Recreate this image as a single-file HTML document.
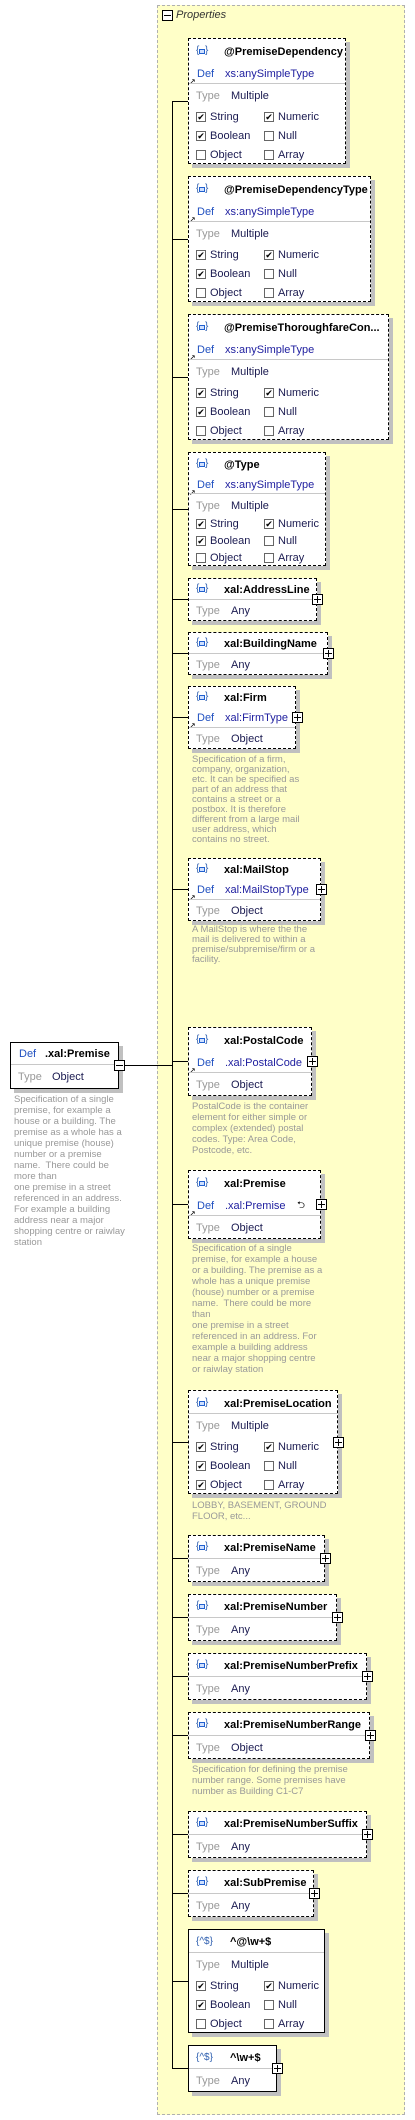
<!DOCTYPE html>
<html><head><meta charset="utf-8"><style>
*{box-sizing:border-box;margin:0;padding:0}
body{width:415px;height:2120px;background:#fff;position:relative;font-family:"Liberation Sans","DejaVu Sans",sans-serif;font-size:11px;overflow:hidden}
.ct{position:absolute;left:157px;top:5px;width:248px;height:2110px;background:#ffffc8;border:1px dashed #b0b0b0}
.pm{position:absolute;left:162px;top:10px;width:11px;height:11px;border:1px solid #000;background:#fff}
.pm:after{content:"";position:absolute;left:1px;top:4px;width:7px;height:1px;background:#000}
.pt{position:absolute;left:176px;top:9px;font-style:italic;color:#333}
.ln{position:absolute;background:#000}
.b{position:absolute;left:188px;background:#fff;border:1px dashed #000;box-shadow:4px 4px 0 #c0c0c0}
.s{border-style:solid}
.r{position:absolute;left:0;height:18px;line-height:18px;white-space:nowrap;width:100%}
.ic{position:absolute;left:7px;top:4px;width:12px;height:10px;color:#3060b0;font-size:10px;line-height:10px}
.ic:before{content:"{";position:absolute;left:0;top:-1px}
.ic:after{content:"}";position:absolute;left:9px;top:-1px}
.ic i{position:absolute;left:3px;top:2px;width:6px;height:5px;border:1px solid #2060d0;background:#cfe0ff}
.rx{position:absolute;left:7px;color:#3060b0;font-size:10px}
.nm{position:absolute;left:35px;font-weight:bold;color:#000}
.d{position:absolute;left:8px;color:#2050c0}
.dt{position:absolute;left:36px;color:#2020a0}
.ar{position:absolute;left:0px;top:8px;font-size:8px;color:#000}
.sep{position:absolute;left:0;width:100%;height:1px;background:#c8c8c8}
.k{position:absolute;left:7px;color:#999}
.v{position:absolute;left:42px;color:#1a1a50}
.c{position:absolute;top:4px;width:10px;height:10px;border:1px solid #666;background:#fff;font-size:9px;line-height:8px;text-align:center;color:#000}
.c1{left:7px}.c2{left:75px}
.l1{position:absolute;left:21px;color:#1a1a50}.l2{position:absolute;left:89px;color:#1a1a50}
.px{position:absolute;width:11px;height:11px;border:1px solid #000;background:#fff}
.px:before{content:"";position:absolute;left:1px;top:4px;width:7px;height:1px;background:#000}
.px:after{content:"";position:absolute;left:4px;top:1px;width:1px;height:7px;background:#000}
.ds{position:absolute;left:192px;font-size:9.5px;line-height:11px;color:#999;white-space:nowrap}
</style></head><body>
<div class="ct"></div>
<div class="pm"></div><div class="pt">Properties</div>

<div class="ln" style="left:172px;top:101px;width:1px;height:1967px"></div>
<div class="ln" style="left:124px;top:1065px;width:48px;height:1px"></div>
<div class="ln" style="left:172px;top:101px;width:16px;height:1px"></div>
<div class="ln" style="left:172px;top:239px;width:16px;height:1px"></div>
<div class="ln" style="left:172px;top:377px;width:16px;height:1px"></div>
<div class="ln" style="left:172px;top:509px;width:16px;height:1px"></div>
<div class="ln" style="left:172px;top:599px;width:16px;height:1px"></div>
<div class="ln" style="left:172px;top:653px;width:16px;height:1px"></div>
<div class="ln" style="left:172px;top:717px;width:16px;height:1px"></div>
<div class="ln" style="left:172px;top:889px;width:16px;height:1px"></div>
<div class="ln" style="left:172px;top:1061px;width:16px;height:1px"></div>
<div class="ln" style="left:172px;top:1204px;width:16px;height:1px"></div>
<div class="ln" style="left:172px;top:1442px;width:16px;height:1px"></div>
<div class="ln" style="left:172px;top:1558px;width:16px;height:1px"></div>
<div class="ln" style="left:172px;top:1617px;width:16px;height:1px"></div>
<div class="ln" style="left:172px;top:1676px;width:16px;height:1px"></div>
<div class="ln" style="left:172px;top:1735px;width:16px;height:1px"></div>
<div class="ln" style="left:172px;top:1834px;width:16px;height:1px"></div>
<div class="ln" style="left:172px;top:1893px;width:16px;height:1px"></div>
<div class="ln" style="left:172px;top:1981px;width:16px;height:1px"></div>
<div class="ln" style="left:172px;top:2068px;width:16px;height:1px"></div>

<div class="b s" style="left:10px;top:1042px;width:109px;height:47px">
<div class="r" style="top:2px"><span class="d">Def</span><b class="nm" style="left:34px">.xal:Premise</b></div>
<div class="sep" style="top:21px"></div>
<div class="r" style="top:25px"><span class="k">Type</span><span class="v" style="left:41px">Object</span></div>
</div>
<div class="pm" style="left:114px;top:1060px;"></div>
<div class="ds" style="left:14px;top:1094px">Specification of a single<br>premise, for example a<br>house or a building. The<br>premise as a whole has a<br>unique premise (house)<br>number or a premise<br>name.&nbsp; There could be<br>more than<br>one premise in a street<br>referenced in an address.<br>For example a building<br>address near a major<br>shopping centre or raiwlay<br>station</div>

<div class="b" style="top:38px;width:158px;height:126px">
<div class="r" style="top:4px"><span class="ic"><i></i></span><b class="nm">@PremiseDependency</b></div>
<div class="r" style="top:26px"><span class="ar">↗</span><span class="d">Def</span><span class="dt">xs:anySimpleType</span></div>
<div class="sep" style="top:44px"></div>
<div class="r" style="top:48px"><span class="k">Type</span><span class="v">Multiple</span></div>
<div class="r" style="top:69px"><span class="c c1">✔</span><span class="l1">String</span><span class="c c2">✔</span><span class="l2">Numeric</span></div>
<div class="r" style="top:88px"><span class="c c1">✔</span><span class="l1">Boolean</span><span class="c c2"></span><span class="l2">Null</span></div>
<div class="r" style="top:107px"><span class="c c1"></span><span class="l1">Object</span><span class="c c2"></span><span class="l2">Array</span></div>
</div>

<div class="b" style="top:176px;width:183px;height:126px">
<div class="r" style="top:4px"><span class="ic"><i></i></span><b class="nm">@PremiseDependencyType</b></div>
<div class="r" style="top:26px"><span class="ar">↗</span><span class="d">Def</span><span class="dt">xs:anySimpleType</span></div>
<div class="sep" style="top:44px"></div>
<div class="r" style="top:48px"><span class="k">Type</span><span class="v">Multiple</span></div>
<div class="r" style="top:69px"><span class="c c1">✔</span><span class="l1">String</span><span class="c c2">✔</span><span class="l2">Numeric</span></div>
<div class="r" style="top:88px"><span class="c c1">✔</span><span class="l1">Boolean</span><span class="c c2"></span><span class="l2">Null</span></div>
<div class="r" style="top:107px"><span class="c c1"></span><span class="l1">Object</span><span class="c c2"></span><span class="l2">Array</span></div>
</div>

<div class="b" style="top:314px;width:201px;height:126px">
<div class="r" style="top:4px"><span class="ic"><i></i></span><b class="nm">@PremiseThoroughfareCon...</b></div>
<div class="r" style="top:26px"><span class="ar">↗</span><span class="d">Def</span><span class="dt">xs:anySimpleType</span></div>
<div class="sep" style="top:44px"></div>
<div class="r" style="top:48px"><span class="k">Type</span><span class="v">Multiple</span></div>
<div class="r" style="top:69px"><span class="c c1">✔</span><span class="l1">String</span><span class="c c2">✔</span><span class="l2">Numeric</span></div>
<div class="r" style="top:88px"><span class="c c1">✔</span><span class="l1">Boolean</span><span class="c c2"></span><span class="l2">Null</span></div>
<div class="r" style="top:107px"><span class="c c1"></span><span class="l1">Object</span><span class="c c2"></span><span class="l2">Array</span></div>
</div>

<div class="b" style="top:452px;width:138px;height:114px">
<div class="r" style="top:3px"><span class="ic"><i></i></span><b class="nm">@Type</b></div>
<div class="r" style="top:23px"><span class="ar">↗</span><span class="d">Def</span><span class="dt">xs:anySimpleType</span></div>
<div class="sep" style="top:40px"></div>
<div class="r" style="top:44px"><span class="k">Type</span><span class="v">Multiple</span></div>
<div class="r" style="top:62px"><span class="c c1">✔</span><span class="l1">String</span><span class="c c2">✔</span><span class="l2">Numeric</span></div>
<div class="r" style="top:79px"><span class="c c1">✔</span><span class="l1">Boolean</span><span class="c c2"></span><span class="l2">Null</span></div>
<div class="r" style="top:96px"><span class="c c1"></span><span class="l1">Object</span><span class="c c2"></span><span class="l2">Array</span></div>
</div>

<div class="b" style="top:578px;width:129px;height:43px">
<div class="r" style="top:2px"><span class="ic"><i></i></span><b class="nm">xal:AddressLine</b></div>
<div class="sep" style="top:20px"></div>
<div class="r" style="top:23px"><span class="k">Type</span><span class="v">Any</span></div>
</div>
<div class="px" style="left:312px;top:594px"></div>

<div class="b" style="top:632px;width:140px;height:43px">
<div class="r" style="top:2px"><span class="ic"><i></i></span><b class="nm">xal:BuildingName</b></div>
<div class="sep" style="top:20px"></div>
<div class="r" style="top:23px"><span class="k">Type</span><span class="v">Any</span></div>
</div>
<div class="px" style="left:323px;top:648px"></div>

<div class="b" style="top:686px;width:108px;height:63px">
<div class="r" style="top:2px"><span class="ic"><i></i></span><b class="nm">xal:Firm</b></div>
<div class="r" style="top:22px"><span class="ar">↗</span><span class="d">Def</span><span class="dt">xal:FirmType</span></div>
<div class="sep" style="top:40px"></div>
<div class="r" style="top:43px"><span class="k">Type</span><span class="v">Object</span></div>
</div>
<div class="px" style="left:292px;top:712px"></div>
<div class="ds" style="top:755px;line-height:10px">Specification of a firm,<br>company, organization,<br>etc. It can be specified as<br>part of an address that<br>contains a street or a<br>postbox. It is therefore<br>different from a large mail<br>user address, which<br>contains no street.</div>

<div class="b" style="top:858px;width:133px;height:63px">
<div class="r" style="top:2px"><span class="ic"><i></i></span><b class="nm">xal:MailStop</b></div>
<div class="r" style="top:22px"><span class="ar">↗</span><span class="d">Def</span><span class="dt">xal:MailStopType</span></div>
<div class="sep" style="top:40px"></div>
<div class="r" style="top:43px"><span class="k">Type</span><span class="v">Object</span></div>
</div>
<div class="px" style="left:316px;top:884px"></div>
<div class="ds" style="top:925px;line-height:10px">A MailStop is where the the<br>mail is delivered to within a<br>premise/subpremise/firm or a<br>facility.</div>

<div class="b" style="top:1027px;width:124px;height:69px">
<div class="r" style="top:4px"><span class="ic"><i></i></span><b class="nm">xal:PostalCode</b></div>
<div class="r" style="top:26px"><span class="ar">↗</span><span class="d">Def</span><span class="dt">.xal:PostalCode</span></div>
<div class="sep" style="top:44px"></div>
<div class="r" style="top:48px"><span class="k">Type</span><span class="v">Object</span></div>
</div>
<div class="px" style="left:307px;top:1056px"></div>
<div class="ds" style="top:1101px">PostalCode is the container<br>element for either simple or<br>complex (extended) postal<br>codes. Type: Area Code,<br>Postcode, etc.</div>

<div class="b" style="top:1170px;width:133px;height:69px">
<div class="r" style="top:4px"><span class="ic"><i></i></span><b class="nm">xal:Premise</b></div>
<div class="r" style="top:26px"><span class="ar">↗</span><span class="d">Def</span><span class="dt">.xal:Premise</span><span style="position:absolute;left:108px;font-size:10px">⮌</span></div>
<div class="sep" style="top:44px"></div>
<div class="r" style="top:48px"><span class="k">Type</span><span class="v">Object</span></div>
</div>
<div class="px" style="left:316px;top:1199px"></div>
<div class="ds" style="top:1243px">Specification of a single<br>premise, for example a house<br>or a building. The premise as a<br>whole has a unique premise<br>(house) number or a premise<br>name.&nbsp; There could be more<br>than<br>one premise in a street<br>referenced in an address. For<br>example a building address<br>near a major shopping centre<br>or raiwlay station</div>

<div class="b" style="top:1390px;width:150px;height:104px">
<div class="r" style="top:4px"><span class="ic"><i></i></span><b class="nm">xal:PremiseLocation</b></div>
<div class="sep" style="top:22px"></div>
<div class="r" style="top:26px"><span class="k">Type</span><span class="v">Multiple</span></div>
<div class="r" style="top:47px"><span class="c c1">✔</span><span class="l1">String</span><span class="c c2">✔</span><span class="l2">Numeric</span></div>
<div class="r" style="top:66px"><span class="c c1">✔</span><span class="l1">Boolean</span><span class="c c2"></span><span class="l2">Null</span></div>
<div class="r" style="top:85px"><span class="c c1">✔</span><span class="l1">Object</span><span class="c c2"></span><span class="l2">Array</span></div>
</div>
<div class="px" style="left:333px;top:1437px"></div>
<div class="ds" style="top:1500px">LOBBY, BASEMENT, GROUND<br>FLOOR, etc...</div>

<div class="b" style="top:1535px;width:137px;height:47px">
<div class="r" style="top:3px"><span class="ic"><i></i></span><b class="nm">xal:PremiseName</b></div>
<div class="sep" style="top:22px"></div>
<div class="r" style="top:26px"><span class="k">Type</span><span class="v">Any</span></div>
</div>
<div class="px" style="left:320px;top:1553px"></div>

<div class="b" style="top:1594px;width:149px;height:47px">
<div class="r" style="top:3px"><span class="ic"><i></i></span><b class="nm">xal:PremiseNumber</b></div>
<div class="sep" style="top:22px"></div>
<div class="r" style="top:26px"><span class="k">Type</span><span class="v">Any</span></div>
</div>
<div class="px" style="left:332px;top:1612px"></div>

<div class="b" style="top:1653px;width:179px;height:47px">
<div class="r" style="top:3px"><span class="ic"><i></i></span><b class="nm">xal:PremiseNumberPrefix</b></div>
<div class="sep" style="top:22px"></div>
<div class="r" style="top:26px"><span class="k">Type</span><span class="v">Any</span></div>
</div>
<div class="px" style="left:362px;top:1671px"></div>

<div class="b" style="top:1712px;width:182px;height:47px">
<div class="r" style="top:3px"><span class="ic"><i></i></span><b class="nm">xal:PremiseNumberRange</b></div>
<div class="sep" style="top:22px"></div>
<div class="r" style="top:26px"><span class="k">Type</span><span class="v">Object</span></div>
</div>
<div class="px" style="left:365px;top:1730px"></div>
<div class="ds" style="top:1764px">Specification for defining the premise<br>number range. Some premises have<br>number as Building C1-C7</div>

<div class="b" style="top:1811px;width:179px;height:47px">
<div class="r" style="top:3px"><span class="ic"><i></i></span><b class="nm">xal:PremiseNumberSuffix</b></div>
<div class="sep" style="top:22px"></div>
<div class="r" style="top:26px"><span class="k">Type</span><span class="v">Any</span></div>
</div>
<div class="px" style="left:362px;top:1829px"></div>

<div class="b" style="top:1870px;width:126px;height:47px">
<div class="r" style="top:3px"><span class="ic"><i></i></span><b class="nm">xal:SubPremise</b></div>
<div class="sep" style="top:22px"></div>
<div class="r" style="top:26px"><span class="k">Type</span><span class="v">Any</span></div>
</div>
<div class="px" style="left:309px;top:1888px"></div>

<div class="b s" style="top:1929px;width:137px;height:104px">
<div class="r" style="top:3px"><span class="rx">{^$}</span><b class="nm" style="left:41px">^@\w+$</b></div>
<div class="sep" style="top:22px"></div>
<div class="r" style="top:26px"><span class="k">Type</span><span class="v">Multiple</span></div>
<div class="r" style="top:47px"><span class="c c1">✔</span><span class="l1">String</span><span class="c c2">✔</span><span class="l2">Numeric</span></div>
<div class="r" style="top:66px"><span class="c c1">✔</span><span class="l1">Boolean</span><span class="c c2"></span><span class="l2">Null</span></div>
<div class="r" style="top:85px"><span class="c c1"></span><span class="l1">Object</span><span class="c c2"></span><span class="l2">Array</span></div>
</div>

<div class="b s" style="top:2045px;width:89px;height:47px">
<div class="r" style="top:3px"><span class="rx">{^$}</span><b class="nm" style="left:41px">^\w+$</b></div>
<div class="sep" style="top:22px"></div>
<div class="r" style="top:26px"><span class="k">Type</span><span class="v">Any</span></div>
</div>
<div class="px" style="left:272px;top:2063px"></div>
</body></html>
